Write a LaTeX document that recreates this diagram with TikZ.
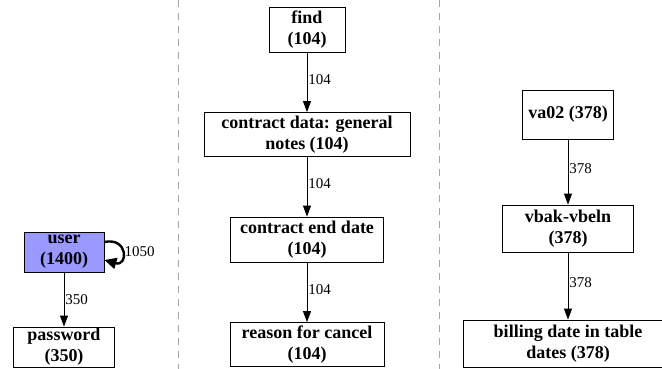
\documentclass[tikz,border=0pt]{standalone}
\usepackage{fontspec}
\setmainfont{Liberation Serif}
\usetikzlibrary{arrows.meta}

\definecolor{userfill}{HTML}{9999FF}
\tikzstyle{box} = [rectangle, draw, thick, align=center, inner sep=0pt, font=\fontsize{18}{21}\selectfont\bfseries]
\tikzstyle{arrow} = [thick,-{Triangle[length=11pt,width=8pt]}]
\tikzstyle{count} = [anchor=west, inner sep=1pt, font=\fontsize{15}{16}\selectfont]
\tikzstyle{sep} = [gray!70, thick, dash pattern=on 7pt off 6pt]

\begin{document}
\begin{tikzpicture}
    [x=1pt, y=-1pt]
  \useasboundingbox (0,0) rectangle (662,369);
  % separators
  \draw[sep] (178,0) -- (178,369);
  \draw[sep] (439,0) -- (439,369);
  % left
  \node[box, fill=userfill, minimum width=80pt, minimum height=40pt] (user) at (64,252) {user\\(1400)};
  \node[box, minimum width=101pt, minimum height=40pt, below of=user, node distance=95pt] (pass) {password\\(350)};
  % middle
  \node[box, minimum width=76pt, minimum height=45pt] (find) at (307,29.5) {find\\(104)};
  \node[box, minimum width=206pt, minimum height=44pt, below of=find, node distance=105pt] (notes) {contract data: general\\notes (104)};
  \node[box, minimum width=153pt, minimum height=45pt, below of=notes, node distance=105pt] (enddate) {contract end date\\(104)};
  \node[box, minimum width=154pt, minimum height=44pt, below of=enddate, node distance=105pt] (cancel) {reason for cancel\\(104)};
  % right
  \node[box, minimum width=91pt, minimum height=49pt] (va) at (568,114.5) {va02 (378)};
  \node[box, minimum width=131pt, minimum height=47pt, below of=va, node distance=114pt] (vbeln) {vbak-vbeln\\(378)};
  \node[box, minimum width=210pt, minimum height=47pt, below of=vbeln, node distance=115pt] (billing) {billing date in table\\dates (378)};

  \draw [arrow] (user) -- node[count, pos=0.5] {350} (pass);
  \draw [-{Triangle[length=12pt,width=11pt]}, line width=2.4pt] ([yshift=10pt]user.east) .. controls +(24pt,5pt) and +(24pt,-7pt) .. node[count, pos=0.5] {1050} ([yshift=-8pt]user.east);
  \draw [arrow] (find) -- node[count, pos=0.45] {104} (notes);
  \draw [arrow] (notes) -- node[count, pos=0.45] {104} (enddate);
  \draw [arrow] (enddate) -- node[count, pos=0.45] {104} (cancel);
  \draw [arrow] (va) -- node[count, pos=0.45] {378} (vbeln);
  \draw [arrow] (vbeln) -- node[count, pos=0.45] {378} (billing);
\end{tikzpicture}
\end{document}
